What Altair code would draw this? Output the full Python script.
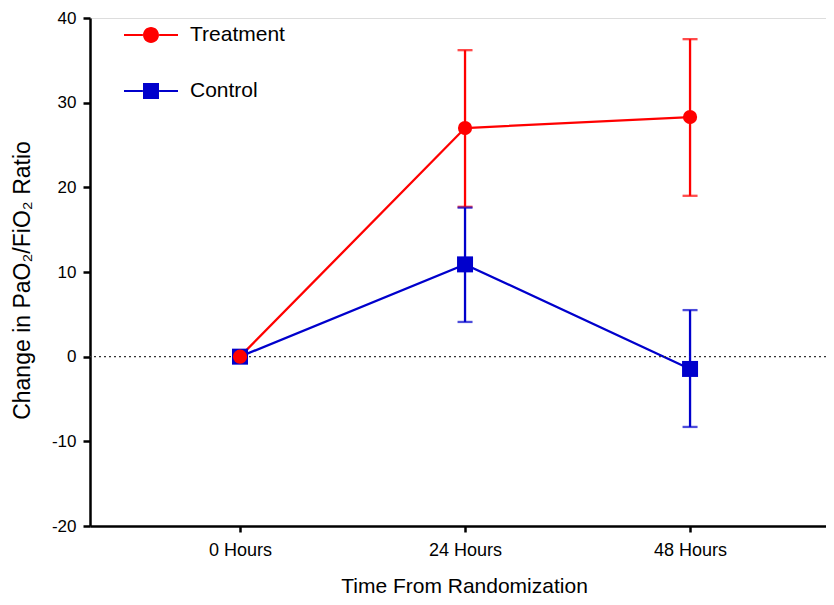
import altair as alt
import pandas as pd

# ---- data ----
hours = [0, 24, 48]
hour_labels = ["0 Hours", "24 Hours", "48 Hours"]
series_names = ["Treatment", "Control"]
series_colors = ["#ff0000", "#0000cc"]

treat_mean = [0.0, 27.0, 28.3]
treat_low = [0.0, 17.7, 19.0]
treat_high = [0.0, 36.2, 37.5]

ctrl_mean = [0.0, 10.9, -1.45]
ctrl_low = [0.0, 4.1, -8.3]
ctrl_high = [0.0, 17.6, 5.5]

y_ticks = [-20, -10, 0, 10, 20, 30, 40]

rows = []
for name, m, lo, hi in [("Control", ctrl_mean, ctrl_low, ctrl_high),
                        ("Treatment", treat_mean, treat_low, treat_high)]:
    for h, a, b, c in zip(hours, m, lo, hi):
        rows.append({"hours": h, "series": name, "mean": a, "low": b, "high": c})
df = pd.DataFrame(rows)

FONT = "Liberation Sans, Arial, sans-serif"

label_expr = " : ".join(
    f"datum.value == {h} ? '{l}'" for h, l in zip(hours, hour_labels)
) + " : ''"

x = alt.X(
    "hours:Q",
    scale=alt.Scale(domain=[-16, 62.5], nice=False, zero=False),
    axis=alt.Axis(
        values=hours, labelExpr=label_expr, title="Time From Randomization",
        grid=False, domainColor="black", domainWidth=2.5, tickColor="black",
        tickWidth=2.5, tickSize=6, labelFont=FONT, labelFontSize=18,
        labelColor="black", labelPadding=9, titleFont=FONT, titleFontSize=21,
        titleFontWeight="normal", titleColor="black", titleBaseline="alphabetic",
        titleY=66, titleX=374,
    ),
)
y_axis = alt.Axis(
    values=y_ticks, labelExpr="'' + datum.value", title="Change in PaO₂/FiO₂ Ratio",
    grid=False, domainColor="black", domainWidth=2.5, tickColor="black", tickWidth=2.5,
    tickSize=7, labelFont=FONT, labelFontSize=17, labelColor="black",
    labelPadding=7, titleFont=FONT, titleFontSize=23, titleFontWeight="normal",
    titleColor="black", titleX=-56, titleY=262,
)
y = alt.Y("mean:Q", scale=alt.Scale(domain=[-20, 40], nice=False), axis=y_axis)

# legend glyphs: line segments either side of the marker (all filled shapes)
seg = "M-1,-0.04H-0.3V0.04H-1ZM0.3,-0.04H1V0.04H0.3Z"
legend_shapes = [
    seg + "M0.296,0A0.296,0.296,0,1,1,-0.296,0A0.296,0.296,0,1,1,0.296,0Z",
    seg + "M-0.296,-0.296H0.296V0.296H-0.296Z",
]

legend = alt.Legend(
    title=None, orient="none", legendX=34, legendY=-10, padding=0, offset=0,
    labelFont=FONT, labelFontSize=21, labelColor="black", labelOffset=12,
    rowPadding=19, symbolSize=2916, symbolStrokeWidth=0, symbolOpacity=1,
)
cscale = alt.Scale(domain=series_names, range=series_colors)
color_nl = alt.Color("series:N", scale=cscale, legend=None)

base = alt.Chart(df)

zero = alt.Chart(pd.DataFrame({"v": [0]})).mark_rule(
    color="#333333", strokeWidth=1.3, strokeDash=[2, 3]
).encode(y=alt.Y("v:Q"))

LW = 2.3
bars = base.mark_rule(strokeWidth=LW).encode(x=x, y=alt.Y("low:Q"), y2="high:Q", color=color_nl)
cap_lo = base.mark_tick(orient="horizontal", size=15, thickness=LW).encode(
    x=x, y=alt.Y("low:Q"), color=color_nl)
cap_hi = base.mark_tick(orient="horizontal", size=15, thickness=LW).encode(
    x=x, y=alt.Y("high:Q"), color=color_nl)
lines = base.mark_line(strokeWidth=LW).encode(x=x, y=y, color=color_nl, detail="series:N")
pts_c = base.transform_filter(alt.datum.series == "Control").mark_point(
    filled=True, opacity=1, shape="square", size=256).encode(x=x, y=y, color=color_nl)
pts_t = base.transform_filter(alt.datum.series == "Treatment").mark_point(
    filled=True, opacity=1, shape="circle", size=201).encode(x=x, y=y, color=color_nl)

# legend-only layer: invisible points (opacity 0) carrying fill + shape legend
leg = base.mark_point(filled=True, opacity=0).encode(
    x=x, y=y,
    fill=alt.Fill("series:N", scale=cscale, legend=legend),
    shape=alt.Shape("series:N", scale=alt.Scale(domain=series_names, range=legend_shapes),
                    legend=legend),
)

chart = alt.layer(leg, lines, zero, bars, cap_lo, cap_hi, pts_c, pts_t).properties(
    width=736, height=508,
    autosize=alt.AutoSizeParams(type="none"),
    padding={"left": 82, "top": 10, "right": 0, "bottom": 71},
).configure_view(stroke=None).configure(background="white")

chart.save("out.html", embed_options={"renderer": "svg", "actions": False})
